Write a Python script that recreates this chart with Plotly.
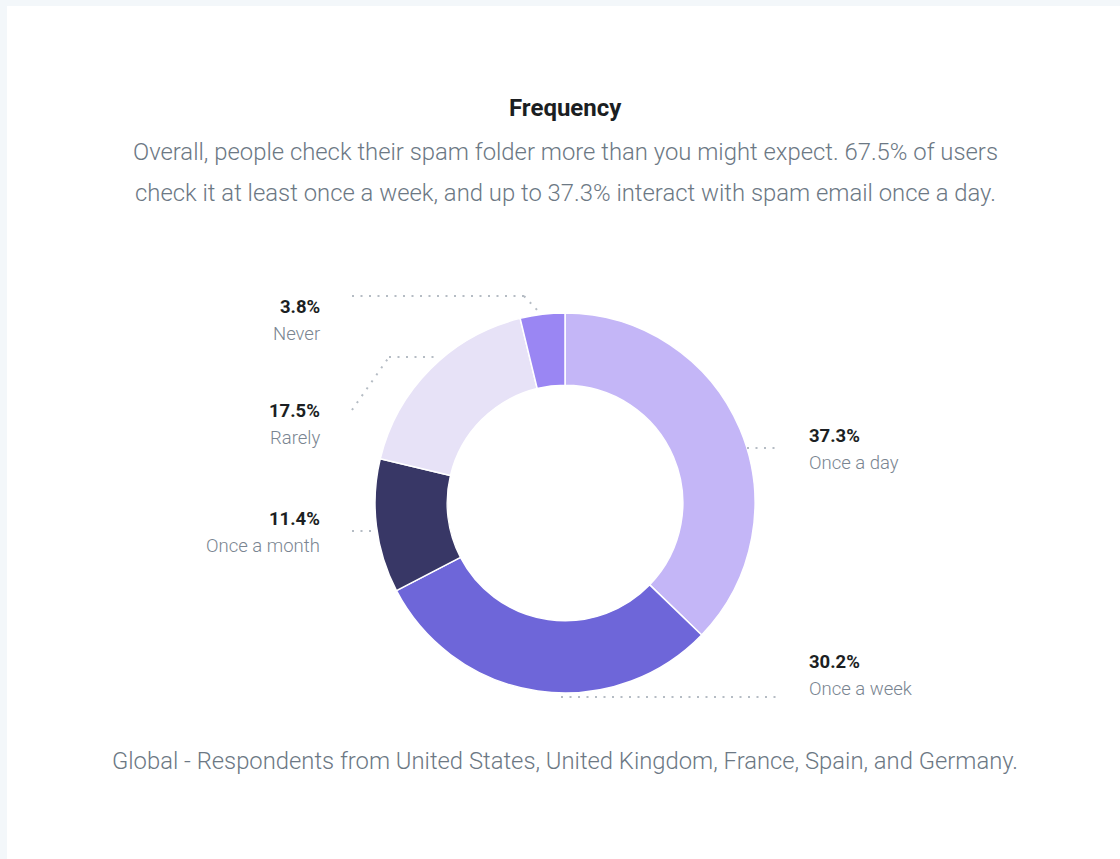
import plotly.graph_objects as go

W, H = 1120, 859

categories = ["Once a day", "Once a week", "Once a month", "Rarely", "Never"]
values = [37.3, 30.2, 11.4, 17.5, 3.8]
value_labels = ["37.3%", "30.2%", "11.4%", "17.5%", "3.8%"]
colors = ["#c4b6f7", "#6e66d9", "#383766", "#e7e2f7", "#9a86f3"]

title = "Frequency"
subtitle_lines = [
    "Overall, people check their spam folder more than you might expect. 67.5% of users",
    "check it at least once a week, and up to 37.3% interact with spam email once a day.",
]
footer = "Global - Respondents from United States, United Kingdom, France, Spain, and Germany."


def px(x):
    return x / W


def py(y):
    return 1 - y / H


cx, cy, r = 565, 503, 190

fig = go.Figure()
fig.add_trace(go.Pie(
    labels=categories,
    values=values,
    sort=False,
    direction="clockwise",
    rotation=0,
    hole=0.62,
    marker=dict(colors=colors, line=dict(color="#ffffff", width=1.5)),
    textinfo="none",
    hoverinfo="label+percent",
    showlegend=False,
    domain=dict(x=[px(cx - r), px(cx + r)], y=[py(cy + r), py(cy - r)]),
))

shapes = [
    # card background
    dict(type="rect", xref="paper", yref="paper", x0=px(7), x1=1.01, y0=-0.01, y1=py(6),
         fillcolor="#ffffff", line=dict(width=0), layer="below"),
]

leaders = [
    [(747, 448), (780, 448)],                  # Once a day
    [(561, 697), (780, 697)],                  # Once a week
    [(352, 531), (376, 531)],                  # Once a month
    [(352, 410), (389, 357), (434, 357)],      # Rarely
    [(352, 296), (524, 296), (539, 312)],      # Never
]
for pts in leaders:
    for (x0, y0), (x1, y1) in zip(pts[:-1], pts[1:]):
        shapes.append(dict(type="line", xref="paper", yref="paper",
                           x0=px(x0), y0=py(y0), x1=px(x1), y1=py(y1),
                           line=dict(color="#b5bcc4", width=2, dash="2px,6.5px")))

ann = []
FONT = "Roboto"
ann.append(dict(text="<b>" + title + "</b>", x=px(565), y=py(108), xref="paper", yref="paper",
                showarrow=False, xanchor="center", yanchor="middle",
                font=dict(family=FONT, size=24, color="#1b1e22")))
for i, line in enumerate(subtitle_lines):
    ann.append(dict(text=line, x=px(565), y=py(152 + 41 * i), xref="paper", yref="paper",
                    showarrow=False, xanchor="center", yanchor="middle",
                    font=dict(family=FONT, size=23.85, color="#6c7884", weight=300)))
ann.append(dict(text=footer, x=px(565), y=py(761), xref="paper", yref="paper",
                showarrow=False, xanchor="center", yanchor="middle",
                font=dict(family=FONT, size=23.8, color="#6c7884", weight=300)))

label_pos = {
    "Once a day": (807, 436, "left"),
    "Once a week": (807, 662, "left"),
    "Once a month": (322, 519, "right"),
    "Rarely": (322, 411, "right"),
    "Never": (322, 307, "right"),
}
for cat, vl in zip(categories, value_labels):
    x, y, anchor = label_pos[cat]
    ann.append(dict(text="<b>" + vl + "</b>", x=px(x), y=py(y), xref="paper", yref="paper",
                    showarrow=False, xanchor=anchor, yanchor="middle",
                    font=dict(family=FONT, size=18.5, color="#1c1f23")))
    ann.append(dict(text=cat, x=px(x), y=py(y + 27), xref="paper", yref="paper",
                    showarrow=False, xanchor=anchor, yanchor="middle",
                    font=dict(family=FONT, size=18.5, color="#7a8591", weight=300)))

fig.update_layout(
    width=W, height=H,
    margin=dict(l=0, r=0, t=0, b=0),
    paper_bgcolor="#f3f7fa",
    plot_bgcolor="#ffffff",
    shapes=shapes,
    annotations=ann,
    font=dict(family=FONT),
)

fig.write_html("out.html", config={"displayModeBar": False},
               post_script="document.body.style.margin='0';document.body.style.overflow='hidden';")
